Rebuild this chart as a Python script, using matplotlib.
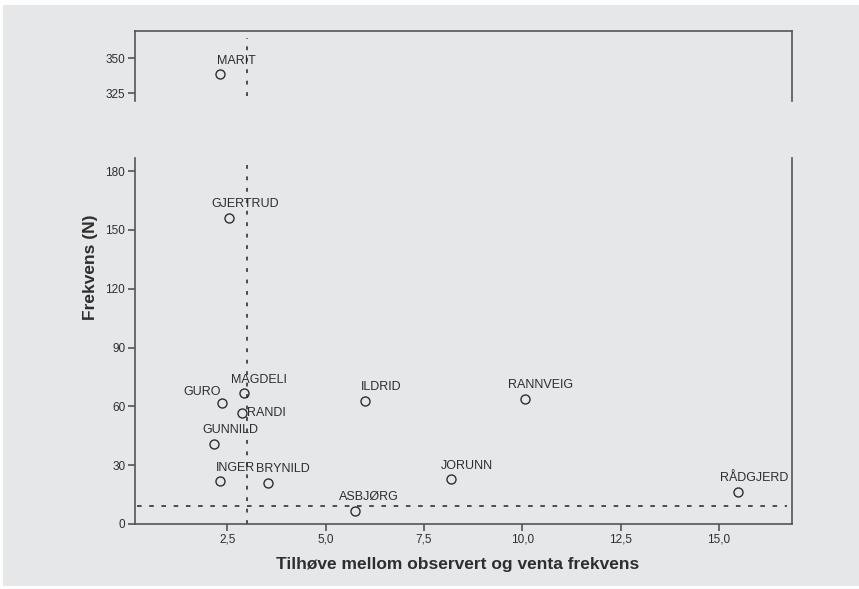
import matplotlib.pyplot as plt
from matplotlib.patches import Rectangle

# data
names = ['MARIT', 'GJERTRUD', 'MAGDELI', 'GURO', 'RANDI', 'GUNNILD', 'INGER',
         'BRYNILD', 'ASBJØRG', 'ILDRID', 'JORUNN', 'RANNVEIG', 'RÅDGJERD']
ratio = [2.31, 2.54, 2.92, 2.37, 2.87, 2.17, 2.30, 3.52, 5.74, 5.99, 8.18, 10.07, 15.48]
freq = [338.8, 156.3, 67.0, 61.9, 56.8, 40.8, 21.9, 20.8, 6.6, 62.9, 23.0, 63.8, 16.5]
x_ref = 3.0
y_ref = 9.3

# label offsets in pixels (left edge, vertical centre) relative to the marker
label_off = [(-3, 13), (-18, 14), (-13, 13), (-39, 11), (5, 0), (-12, 14), (-4, 13),
             (-12, 14), (-16, 14), (-4, 14), (-10, 13), (-17, 14), (-18, 14)]

plt.rcParams['font.family'] = ['Liberation Sans', 'DejaVu Sans']
txt = '#2e2e2e'
spine_c = '#555555'
bg = '#e6e7e9'

fig = plt.figure(figsize=(8.59, 5.89), dpi=100, facecolor='white')
fig.patches.append(Rectangle((3 / 859, 3 / 589), 1, 1 - 8 / 589, transform=fig.transFigure,
                             facecolor=bg, edgecolor='none', zorder=-10))

ax_top = fig.add_axes([135 / 859, 1 - 101 / 589, (792 - 135) / 859, 70 / 589])
ax_bot = fig.add_axes([135 / 859, 1 - 524 / 589, (792 - 135) / 859, 366 / 589])

for ax in (ax_top, ax_bot):
    ax.set_facecolor('none')
    ax.set_xlim(0.15, 16.86)
    for s in ax.spines.values():
        s.set_color(spine_c)
        s.set_linewidth(1.2)
    ax.tick_params(colors=spine_c, labelcolor=txt, labelsize=8.5, length=5, width=1.2,
                   direction='out', pad=2)
    ax.plot(ratio, freq, 'o', markerfacecolor='none', markeredgecolor=txt,
            markersize=6.5, markeredgewidth=1.0, clip_on=True)
    for n, x, y, (dx, dy) in zip(names, ratio, freq, label_off):
        ax.annotate(n, (x, y), xytext=(dx, dy), textcoords='offset pixels',
                    ha='left', va='center', fontsize=9, color=txt, annotation_clip=True)

# top panel (the outlier)
ax_top.set_ylim(319.3, 369.3)
ax_top.set_yticks([325, 350])
ax_top.spines['bottom'].set_visible(False)
ax_top.set_xticks([])
ax_top.axvline(x_ref, ymin=0.07, ymax=0.9, color='#222222', lw=1.1, ls=(0, (2.5, 5)))

# main panel
ax_bot.set_ylim(0, 186.7)
ax_bot.set_yticks([0, 30, 60, 90, 120, 150, 180])
ax_bot.spines['top'].set_visible(False)
ax_bot.set_xticks([2.5, 5.0, 7.5, 10.0, 12.5, 15.0])
ax_bot.set_xticklabels(['2,5', '5,0', '7,5', '10,0', '12,5', '15,0'])
ax_bot.axvline(x_ref, ymin=0, ymax=0.981, color='#222222', lw=1.1, ls=(0, (2.5, 5)))
ax_bot.axhline(y_ref, xmin=0.003, xmax=0.993, color='#222222', lw=1.1, ls=(0, (3, 5)))

fig.text(458 / 859, 1 - 565 / 589, 'Tilhøve mellom observert og venta frekvens',
         ha='center', va='center', fontsize=12.5, fontweight='bold', color=txt)
fig.text(91 / 859, 1 - 267 / 589, 'Frekvens (N)', rotation=90,
         ha='center', va='center', fontsize=12.5, fontweight='bold', color=txt)

fig.savefig('out.png', dpi=100, facecolor=fig.get_facecolor())
